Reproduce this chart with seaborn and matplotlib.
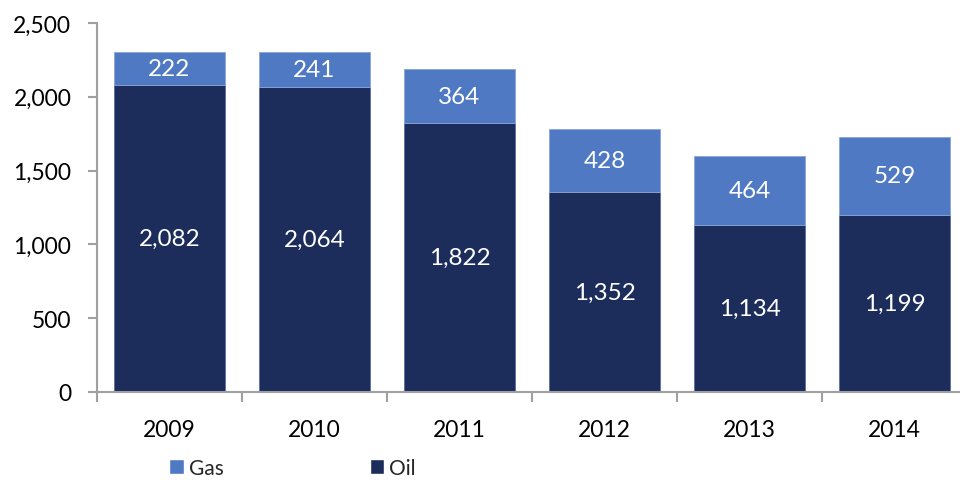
import matplotlib
matplotlib.use("Agg")
import matplotlib.pyplot as plt
import matplotlib.ticker as mticker
from matplotlib.patches import Patch
import seaborn as sns
import pandas as pd

years = ["2009", "2010", "2011", "2012", "2013", "2014"]
oil = [2082, 2064, 1822, 1352, 1134, 1199]
gas = [222, 241, 364, 428, 464, 529]

gas_color = "#4F7AC3"
oil_color = "#1C2D5C"
axis_gray = "#A0A0A0"

df = pd.DataFrame({"year": years, "oil": oil, "gas": gas})

sns.set_style("white")
plt.rcParams["font.family"] = ["Lato", "DejaVu Sans"]

fig = plt.figure(figsize=(9.6, 4.81), dpi=100)
ax = fig.add_axes([97 / 960, (481 - 393) / 481, 1 - 97 / 960 + 7 / 960, (393 - 24) / 481])

sns.barplot(data=df, x="year", y="oil", color=oil_color, width=0.77,
            edgecolor="#5A6F9E", linewidth=0.6, saturation=1, ax=ax)
sns.barplot(data=df, x="year", y="gas", color=gas_color, width=0.77,
            bottom=df["oil"], edgecolor="#8CA5D6", linewidth=0.6, saturation=1, ax=ax)

for cont in ax.containers:
    ax.bar_label(cont, labels=[f"{v:,.0f}" for v in cont.datavalues],
                 label_type="center", color="white", fontsize=17.5)

ax.set_ylim(0, 2500)
ax.set_xlim(-0.5, 5.5)
ax.yaxis.set_major_locator(mticker.MultipleLocator(500))
ax.yaxis.set_major_formatter(mticker.FuncFormatter(lambda v, p: f"{v:,.0f}"))
ax.set_xlabel("")
ax.set_ylabel("")

for s in ["top", "right"]:
    ax.spines[s].set_visible(False)
for s in ["left", "bottom"]:
    ax.spines[s].set_color(axis_gray)
    ax.spines[s].set_linewidth(1.5)

ax.tick_params(axis="y", which="major", left=True, length=6.5, width=1.5,
               color=axis_gray, labelsize=16.5, labelcolor="black", pad=12)
ax.tick_params(axis="x", which="major", bottom=False, labelsize=16.5,
               labelcolor="black", pad=16)
ax.set_xticks([i - 0.5 for i in range(len(years) + 1)], minor=True)
ax.tick_params(axis="x", which="minor", bottom=True, length=7, width=1.5,
               color=axis_gray)

handles = [Patch(facecolor=gas_color, label="Gas"),
           Patch(facecolor=oil_color, label="Oil")]
fig.legend(handles=handles, loc="upper left", bbox_to_anchor=(169 / 960, 1 - 459 / 481),
           ncol=2, frameon=False, fontsize=15, handlelength=0.7, handleheight=0.7,
           handletextpad=0.25, columnspacing=7.0, borderaxespad=0, borderpad=0)

fig.savefig("out.png", dpi=100)
